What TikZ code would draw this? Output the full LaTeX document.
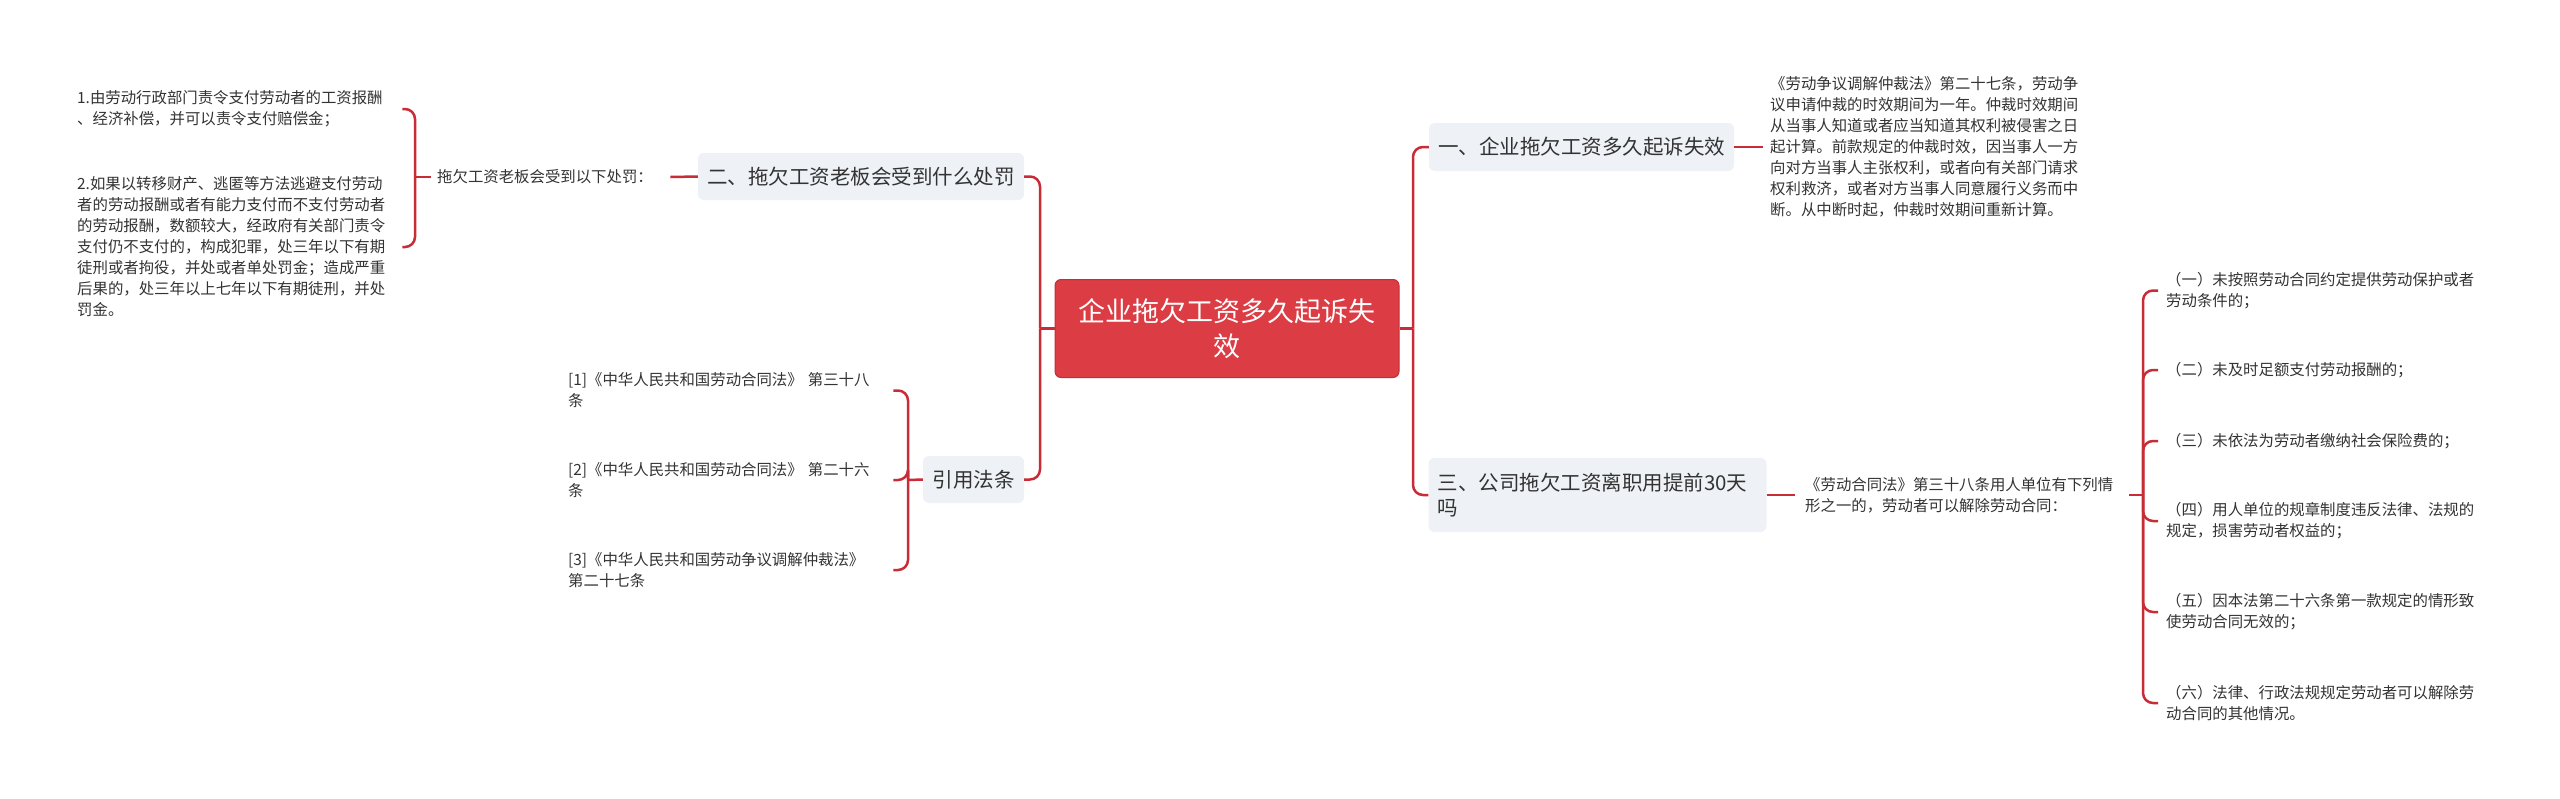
\documentclass[tikz,border=0pt]{standalone}
\usepackage{fontspec}
\setmainfont{Noto Sans CJK SC}
\definecolor{connc}{RGB}{200,45,55}
\definecolor{rootc}{RGB}{220,60,68}
\definecolor{rootb}{RGB}{196,46,54}
\definecolor{boxc}{RGB}{238,241,245}
\definecolor{txtc}{RGB}{51,51,51}
\newcommand\fsS{\fontsize{15.4}{21}\selectfont}
\newcommand\fsM{\fontsize{20.5}{25}\selectfont}
\newcommand\fsL{\fontsize{27}{35}\selectfont}
\begin{document}
\begin{tikzpicture}[x=1pt,y=-1pt,
  link/.style={draw=connc, line width=2.5pt, rounded corners=10pt},
  topic/.style={fill=boxc, rounded corners=6pt, text=txtc, font=\fsM, inner sep=0pt, minimum height=47pt},
  leaf/.style={inner sep=0pt, text=txtc, font=\fsS, align=left, anchor=west},
  root/.style={fill=rootc, draw=rootb, line width=1pt, rounded corners=6pt, text=white, font=\fsL, align=center, inner sep=0pt, minimum width=344pt, minimum height=98pt}]
\useasboundingbox[fill=white] (0,0) rectangle (2560,798);

% root
\node[root] (c) at (1227,328.5) {企业拖欠工资多久起诉失\\效};

% main topics
\node[topic, minimum width=326pt] (b2) at (861,176.5) {二、拖欠工资老板会受到什么处罚};
\node[topic, minimum width=101pt] (rb) at (973.5,479.5) {引用法条};
\node[topic, minimum width=305pt, minimum height=48pt] (b1) at (1581.5,147) {一、企业拖欠工资多久起诉失效};
\node[topic, minimum height=74pt, text width=320pt, align=left, inner xsep=9pt] (b3) at (1597.5,495) {三、公司拖欠工资离职用提前30天\\吗};

% left leaves
\node[leaf, text width=318pt] (i1) at (77,109) {1.由劳动行政部门责令支付劳动者的工资报酬\\、经济补偿，并可以责令支付赔偿金；};
\node[leaf, text width=318pt] (i2) at (77,247) {2.如果以转移财产、逃匿等方法逃避支付劳动\\者的劳动报酬或者有能力支付而不支付劳动者\\的劳动报酬，数额较大，经政府有关部门责令\\支付仍不支付的，构成犯罪，处三年以下有期\\徒刑或者拘役，并处或者单处罚金；造成严重\\后果的，处三年以上七年以下有期徒刑，并处\\罚金。};
\node[leaf, text width=215pt] (lab) at (437,177) {拖欠工资老板会受到以下处罚：};

% references
\node[leaf, text width=318pt] (f1) at (568,390.5) {[1]《中华人民共和国劳动合同法》 第三十八\\条};
\node[leaf, text width=318pt] (f2) at (568,480) {[2]《中华人民共和国劳动合同法》 第二十六\\条};
\node[leaf, text width=318pt] (f3) at (568,570) {[3]《中华人民共和国劳动争议调解仲裁法》\\第二十七条};

% right leaves
\node[leaf, text width=330pt] (tA) at (1770,147) {《劳动争议调解仲裁法》第二十七条，劳动争\\议申请仲裁的时效期间为一年。仲裁时效期间\\从当事人知道或者应当知道其权利被侵害之日\\起计算。前款规定的仲裁时效，因当事人一方\\向对方当事人主张权利，或者向有关部门请求\\权利救济，或者对方当事人同意履行义务而中\\断。从中断时起，仲裁时效期间重新计算。};
\node[leaf, text width=324pt] (tB) at (1805,495) {《劳动合同法》第三十八条用人单位有下列情\\形之一的，劳动者可以解除劳动合同：};

\node[leaf, text width=330pt] (r1) at (2166,290.5) {（一）未按照劳动合同约定提供劳动保护或者\\劳动条件的；};
\node[leaf, text width=330pt] (r2) at (2166,370) {（二）未及时足额支付劳动报酬的；};
\node[leaf, text width=330pt] (r3) at (2166,441) {（三）未依法为劳动者缴纳社会保险费的；};
\node[leaf, text width=330pt] (r4) at (2166,521) {（四）用人单位的规章制度违反法律、法规的\\规定，损害劳动者权益的；};
\node[leaf, text width=330pt] (r5) at (2166,612) {（五）因本法第二十六条第一款规定的情形致\\使劳动合同无效的；};
\node[leaf, text width=330pt] (r6) at (2166,703) {（六）法律、行政法规规定劳动者可以解除劳\\动合同的其他情况。};

% junctions
\coordinate (cl) at (1040,328.5);
\coordinate (cr) at (1413,328.5);
\coordinate (lj) at (415,177);
\coordinate (fj) at (908,480);
\coordinate (rj) at (2143,495);

% root connectors
\draw[link] (c.west) -- (cl);
\draw[link] (cl) |- (b2.east);
\draw[link] (cl) |- (rb.east);
\draw[link] (c.east) -- (cr);
\draw[link] (cr) |- (b1.west);
\draw[link] (cr) |- (b3.west);

% left branch
\draw[link] (b2.west) -- ([xshift=18pt]lab.east);
\draw[link] ([xshift=-6pt]lab.west) -- (lj);
\draw[link] (lj) |- ([xshift=7pt]i1.east);
\draw[link] (lj) |- ([xshift=7pt]i2.east);

% references
\draw[link] (rb.west) -- (fj);
\draw[link] (fj) |- ([xshift=7pt]f1.east);
\draw[link] (fj) |- ([xshift=7pt]f2.east);
\draw[link] (fj) |- ([xshift=7pt]f3.east);

% right branches
\draw[link] (b1.east) -- ([xshift=-7pt]tA.west);
\draw[link] (b3.east) -- ([xshift=-10pt]tB.west);
\draw[link] (tB.east) -- (rj);
\foreach \n in {r1,r2,r3,r4,r5,r6}{
  \draw[link] (rj) |- ([xshift=-8pt]\n.west);
}
\end{tikzpicture}
\end{document}
